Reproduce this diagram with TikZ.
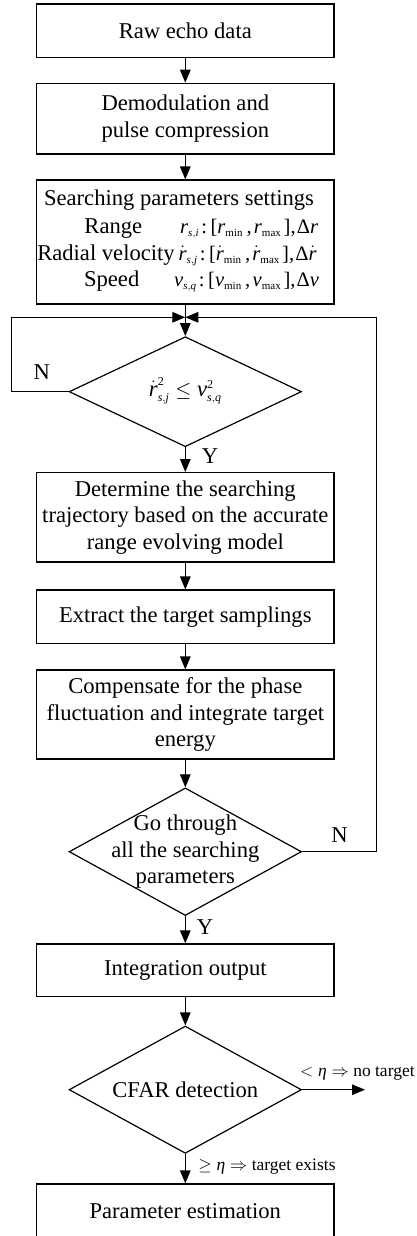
\documentclass[tikz,border=0pt]{standalone}
\usepackage{amsmath}
\usepackage{fontspec}
\setmainfont{Liberation Serif}
\usetikzlibrary{shapes.geometric,arrows.meta}
\DeclareMathSizes{22.6}{22.6}{12}{9}
\DeclareMathSizes{20.6}{20.6}{11}{8}
\newcommand\mainfs{\fontsize{22.6}{26.7}\selectfont}
\newcommand\mathfs{\fontsize{20.6}{24}\selectfont}
\newcommand\notefs{\fontsize{17.5}{20}\selectfont}
% italic serif letters inside formulas
\newcommand\vi[1]{\text{\itshape #1}}
\newcommand\up[1]{\text{\upshape #1}}
% search interval: variable : [base_min , base_max], step of base
\newcommand\srange[2]{#1\mkern2mu\up{:}\mkern3mu\up{[}#2_{\up{min}}\mkern3mu\up{,}\mkern2mu#2_{\up{max}}\mkern2mu\up{]}\up{,}\mkern1mu\up{Δ}#2}
\begin{document}
\begin{tikzpicture}[x=1pt,y=-1pt,
  every node/.style={font=\mainfs, inner sep=0pt},
  proc/.style={draw, line width=1.2pt, minimum width=297.3pt, align=center},
  dec/.style={draw, diamond, line width=1.2pt, minimum width=232.4pt},
  flow/.style={line width=1.2pt, -{Triangle[length=13pt,width=10.5pt]}},
  note/.style={font=\notefs},
  formula/.style={font=\mathfs, anchor=base west},
]
\clip (0,0) rectangle (416,1236);

% process boxes
\node[proc, minimum height=53.3pt] (raw) at (185.3,30.7) {Raw echo data};
\node[proc, minimum height=70.7pt] (demod) at (185.3,118.7) {Demodulation and\\pulse compression};
\node[proc, minimum height=124pt] (param) at (185.3,242) {};
\node[anchor=base] (ptitle) at (179,205) {Searching parameters settings};
\node[anchor=base] (prange) at (113.3,233) {Range};
\node[anchor=base] (pradial) at (106,260) {Radial velocity};
\node[anchor=base] (pspeed) at (111.7,286.7) {Speed};
\node[formula] (mrange) at (180,233) {$\srange{\vi{r}_{\vi{s},\vi{i}}}{\vi{r}}$};
\node[formula] (mradial) at (178.5,260) {$\srange{\dot{\vi{r}}_{\vi{s},\vi{j}}}{\dot{\vi{r}}}$};
\node[formula] (mspeed) at (174,286.7) {$\srange{\vi{v}_{\vi{s},\vi{q}}}{\vi{v}}$};

\node[dec, minimum height=110pt] (cond) at (185.3,391.7) {};
\node (condtxt) at (185.3,391) {$\dot{\vi{r}}_{\vi{s},\vi{j}}^{\up{2}}\le \vi{v}_{\vi{s},\vi{q}}^{\up{2}}$};

\node[proc, minimum height=89.3pt] (traj) at (185.3,517.3) {Determine the searching\\trajectory based on the accurate\\range evolving model};
\node[proc, minimum height=53.3pt] (extract) at (185.3,616.7) {Extract the target samplings};
\node[proc, minimum height=89pt] (comp) at (185.3,714.5) {Compensate for the phase\\fluctuation and integrate target\\energy};

\node[dec, minimum height=127.6pt] (loop) at (185.3,851.7) {};
\node[align=center] (looptxt) at (185.3,851.7) {Go through\\all the searching\\parameters};

\node[proc, minimum height=52.7pt] (integ) at (185.3,970.3) {Integration output};

\node[dec, minimum height=127.3pt] (cfar) at (185.3,1089.7) {};
\node (cfartxt) at (185.3,1089.7) {CFAR detection};

\node[proc, minimum height=55pt] (est) at (185.3,1211.5) {Parameter estimation};

% junction above the first decision and loop corners
\coordinate (merge) at (185.3,317.3);
\coordinate (lcorner) at (11.7,317.3);
\coordinate (rcorner) at (376.7,317.3);
\coordinate (notarget) at (365,1089.7);

% connectors
\draw[flow] (raw) -- (demod);
\draw[flow] (demod) -- (param);
\draw[flow] (param) -- (cond.north);
\draw[flow] (cond.west) -| (lcorner) -- (merge);
\draw[flow] (loop.east) -| (rcorner) -- (merge);
\draw[flow] (cond.south) -- (traj);
\draw[flow] (traj) -- (extract);
\draw[flow] (extract) -- (comp);
\draw[flow] (comp) -- (loop.north);
\draw[flow] (loop.south) -- (integ);
\draw[flow] (integ) -- (cfar.north);
\draw[flow] (cfar.east) -- (notarget);
\draw[flow] (cfar.south) -- (est);

% branch labels
\node (n1) at (41.7,372) {N};
\node (y1) at (210,456) {Y};
\node (n2) at (339.5,834.7) {N};
\node (y2) at (205,927.5) {Y};
\node[note] (lessl) at (357.4,1073) {$<\vi{η}\Rightarrow$ no target};
\node[note] (geql) at (267,1166.7) {$\geq\vi{η}\Rightarrow$ target exists};
\end{tikzpicture}
\end{document}
